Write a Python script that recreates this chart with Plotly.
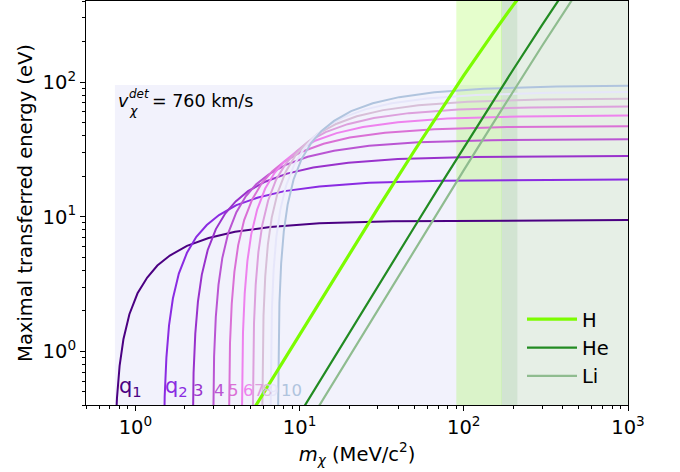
import math
import plotly.graph_objects as go

# ---------------- data ----------------
q_names = ["q1", "q2", "q3", "q4", "q5", "q6", "q7", "q8", "q9", "q10"]
q_label_text = ["q<sub>1</sub>", "q<sub>2</sub>", "3", "4", "5", "6", "7", "8", "9", "10"]
q_label_mass = [0.81, 1.53, 2.27, 3.05, 3.72, 4.59, 5.34, 5.99, 6.52, 7.76]
q_colors = ["#4B0082", "#8A2BE2", "#9932CC", "#BA55D3", "#DA70D6",
            "#EE82EE", "#DDA0DD", "#D8BFD8", "#E6E6FA", "#B0C4DE"]

q1_mass = [0.737, 0.742, 0.753, 0.772, 0.801, 0.845, 0.919, 1.03, 1.18, 1.36, 1.62, 2.06, 2.79, 4.04, 6.62, 13.2, 36.8, 1000]
q1_energy = [0.028, 0.094, 0.23, 0.45, 0.78, 1.23, 1.89, 2.70, 3.54, 4.34, 5.15, 6.08, 6.96, 7.73, 8.40, 8.93, 9.26, 9.44]
q2_mass = [1.474, 1.485, 1.507, 1.544, 1.602, 1.691, 1.838, 2.06, 2.35, 2.72, 3.23, 4.12, 5.59, 8.09, 13.2, 26.5, 73.5, 1000]
q2_energy = [0.057, 0.187, 0.461, 0.90, 1.56, 2.47, 3.78, 5.40, 7.09, 8.68, 10.3, 12.2, 13.9, 15.5, 16.8, 17.9, 18.5, 18.87]
q3_mass = [2.212, 2.227, 2.260, 2.315, 2.403, 2.536, 2.756, 3.09, 3.53, 4.08, 4.85, 6.17, 8.38, 12.1, 19.8, 39.7, 110, 1000]
q3_energy = [0.085, 0.281, 0.691, 1.35, 2.34, 3.70, 5.67, 8.10, 10.6, 13.0, 15.5, 18.2, 20.9, 23.2, 25.2, 26.8, 27.8, 28.29]
q4_mass = [2.949, 2.969, 3.014, 3.087, 3.205, 3.381, 3.675, 4.12, 4.70, 5.44, 6.47, 8.23, 11.2, 16.2, 26.5, 52.9, 147, 1000]
q4_energy = [0.113, 0.374, 0.922, 1.80, 3.12, 4.93, 7.56, 10.8, 14.2, 17.4, 20.6, 24.3, 27.9, 30.9, 33.6, 35.7, 37.0, 37.69]
q5_mass = [3.686, 3.712, 3.767, 3.859, 4.006, 4.226, 4.594, 5.15, 5.88, 6.80, 8.09, 10.3, 14.0, 20.2, 33.1, 66.2, 184, 1000]
q5_energy = [0.141, 0.468, 1.15, 2.25, 3.90, 6.16, 9.45, 13.5, 17.7, 21.7, 25.8, 30.4, 34.8, 38.7, 42.0, 44.6, 46.3, 47.08]
q6_mass = [4.423, 4.454, 4.520, 4.631, 4.807, 5.072, 5.513, 6.17, 7.06, 8.16, 9.70, 12.3, 16.8, 24.3, 39.7, 79.4, 221, 1000]
q6_energy = [0.170, 0.561, 1.38, 2.70, 4.68, 7.40, 11.3, 16.2, 21.3, 26.1, 30.9, 36.5, 41.8, 46.4, 50.4, 53.6, 55.6, 56.45]
q7_mass = [5.160, 5.196, 5.274, 5.402, 5.608, 5.917, 6.431, 7.20, 8.23, 9.52, 11.3, 14.4, 19.6, 28.3, 46.3, 92.6, 257, 1000]
q7_energy = [0.198, 0.655, 1.61, 3.15, 5.46, 8.63, 13.2, 18.9, 24.8, 30.4, 36.1, 42.5, 48.7, 54.1, 58.8, 62.5, 64.8, 65.81]
q8_mass = [5.898, 5.939, 6.027, 6.174, 6.409, 6.762, 7.350, 8.23, 9.41, 10.9, 12.9, 16.5, 22.3, 32.3, 52.9, 106, 294, 1000]
q8_energy = [0.226, 0.748, 1.84, 3.60, 6.24, 9.86, 15.1, 21.6, 28.4, 34.7, 41.2, 48.6, 55.7, 61.9, 67.2, 71.4, 74.1, 75.16]
q9_mass = [6.635, 6.681, 6.780, 6.946, 7.210, 7.607, 8.269, 9.26, 10.6, 12.2, 14.6, 18.5, 25.1, 36.4, 59.5, 119, 331, 1000]
q9_energy = [0.254, 0.842, 2.07, 4.05, 7.02, 11.1, 17.0, 24.3, 31.9, 39.1, 46.4, 54.7, 62.7, 69.6, 75.6, 80.3, 83.3, 84.49]
q10_mass = [7.372, 7.424, 7.534, 7.718, 8.012, 8.453, 9.188, 10.3, 11.8, 13.6, 16.2, 20.6, 27.9, 40.4, 66.2, 132, 368, 1000]
q10_energy = [0.283, 0.936, 2.30, 4.50, 7.80, 12.3, 18.9, 27.0, 35.4, 43.4, 51.5, 60.8, 69.6, 77.3, 84.0, 89.3, 92.6, 93.81]

H_mass = [5, 10, 20, 30, 50, 70, 100, 150, 200, 300]
H_energy = [0.339, 1.34, 5.25, 11.6, 30.9, 58.1, 112, 229, 373, 708]
He_mass = [10, 20, 30, 50, 70, 100, 150, 200, 300, 400]
He_energy = [0.343, 1.37, 3.05, 8.39, 16.3, 32.7, 71.7, 124, 266, 450]
Li_mass = [10, 13, 20, 30, 50, 70, 100, 150, 200, 300, 500]
Li_energy = [0.229, 0.386, 0.911, 2.04, 5.64, 11.0, 22.2, 49.0, 85.6, 186, 484]

nuclei = ["H", "He", "Li"]
nuclei_colors = ["#7CFC00", "#228B22", "#8FBC8F"]

# shaded regions (MeV/c^2 and eV)
region_mass_min = 0.75
region_energy_max = 95
band_H = [90, 171]
band_overlap = [171, 213]
band_Li = [213, 1000]

x_ticks = [1, 10, 100, 1000]
x_tick_text = ["10<sup>0</sup>", "10<sup>1</sup>", "10<sup>2</sup>", "10<sup>3</sup>"]
y_ticks = [1, 10, 100]
y_tick_text = ["10<sup>0</sup>", "10<sup>1</sup>", "10<sup>2</sup>"]
x_minor = [0.5, 0.6, 0.7, 0.8, 0.9, 2, 3, 4, 5, 6, 7, 8, 9, 20, 30, 40, 50, 60, 70, 80, 90,
           200, 300, 400, 500, 600, 700, 800, 900]
y_minor = [0.4, 0.5, 0.6, 0.7, 0.8, 0.9, 2, 3, 4, 5, 6, 7, 8, 9, 20, 30, 40, 50, 60, 70, 80, 90, 200, 300, 400]

q_mass = [q1_mass, q2_mass, q3_mass, q4_mass, q5_mass, q6_mass, q7_mass, q8_mass, q9_mass, q10_mass]
q_energy = [q1_energy, q2_energy, q3_energy, q4_energy, q5_energy, q6_energy, q7_energy, q8_energy, q9_energy, q10_energy]
nuc_mass = [H_mass, He_mass, Li_mass]
nuc_energy = [H_energy, He_energy, Li_energy]

# ---------------- figure ----------------
FONT = "DejaVu Sans"
FS = 19.5
L, R, T, B = 86, 52, 1, 67
W, Hh = 680, 472
PW, PH = W - L - R, Hh - T - B

def px(xp):
    return (xp - L) / PW

def py(yp):
    return (Hh - B - yp) / PH

fig = go.Figure()

for name, xs, ys, col in zip(q_names, q_mass, q_energy, q_colors):
    fig.add_trace(go.Scatter(x=xs, y=ys, mode="lines", name=name, showlegend=False,
                             line=dict(color=col, width=2), hoverinfo="skip"))

widths = [3.2, 2.2, 2.2]
for name, xs, ys, col, w in zip(nuclei, nuc_mass, nuc_energy, nuclei_colors, widths):
    fig.add_trace(go.Scatter(x=xs, y=ys, mode="lines", name=name, legendgroup=name,
                             line=dict(color=col, width=w)))

shapes = [
    dict(type="rect", xref="x", yref="y", x0=region_mass_min, x1=1000, y0=0.1, y1=region_energy_max,
         fillcolor="rgba(230,230,250,0.5)", line=dict(width=0), layer="below"),
    dict(type="rect", xref="x", yref="y", x0=band_H[0], x1=band_H[1], y0=0.1, y1=1e4,
         fillcolor="rgba(124,252,0,0.2)", line=dict(width=0), layer="below"),
    dict(type="rect", xref="x", yref="y", x0=band_overlap[0], x1=band_overlap[1], y0=0.1, y1=1e4,
         fillcolor="rgb(210,228,210)", line=dict(width=0), layer="below"),
    dict(type="rect", xref="x", yref="y", x0=band_Li[0], x1=band_Li[1], y0=0.1, y1=1e4,
         fillcolor="rgb(230,239,230)", line=dict(width=0), layer="below"),
    dict(type="line", xref="x", yref="paper", x0=band_H[1], x1=band_H[1], y0=0, y1=1,
         line=dict(color="rgba(150,215,120,0.6)", width=1), layer="below"),
]

annotations = []
for i, (txt, m, col) in enumerate(zip(q_label_text, q_label_mass, q_colors)):
    big = i < 2
    annotations.append(dict(x=math.log10(m), y=math.log10(0.5), xref="x", yref="y",
                            text=txt, showarrow=False, xanchor="left", yanchor="bottom",
                            font=dict(family=FONT, size=21 if big else 16.5, color=col),
                            xshift=-2, yshift=-9, borderpad=0))

# v_chi^det = 760 km/s
annotations += [
    dict(x=px(117), y=py(108), xref="paper", yref="paper", text="<i>v</i>", showarrow=False,
         xanchor="left", yanchor="bottom", font=dict(family=FONT, size=17.5, color="black"), borderpad=0, yshift=-4),
    dict(x=px(128), y=py(116), xref="paper", yref="paper", text="<i>χ</i>", showarrow=False,
         xanchor="left", yanchor="bottom", font=dict(family=FONT, size=12.5, color="black"), borderpad=0, yshift=-3),
    dict(x=px(128), y=py(99), xref="paper", yref="paper", text="<i>det</i>", showarrow=False,
         xanchor="left", yanchor="bottom", font=dict(family=FONT, size=12, color="black"), borderpad=0, yshift=-3),
    dict(x=px(151), y=py(108), xref="paper", yref="paper", text="= 760 km/s", showarrow=False,
         xanchor="left", yanchor="bottom", font=dict(family=FONT, size=17.5, color="black"), borderpad=0, yshift=-4),
]

axis_common = dict(type="log", showgrid=False, zeroline=False, showline=True, linecolor="black",
                   linewidth=1, mirror=True, ticks="outside", ticklen=5, tickwidth=1, tickcolor="black",
                   tickfont=dict(family=FONT, size=FS, color="black"))

fig.update_layout(
    width=W, height=Hh,
    margin=dict(l=L, r=R, t=T, b=B),
    paper_bgcolor="white", plot_bgcolor="white",
    font=dict(family=FONT, size=FS, color="black"),
    xaxis=dict(**axis_common, range=[math.log10(0.5), 3], tickmode="array", tickvals=x_ticks,
               ticktext=x_tick_text,
               minor=dict(tickmode="array", tickvals=x_minor, ticks="outside", ticklen=3,
                          tickcolor="black", tickwidth=1, showgrid=False),
               title=dict(text="<i>m</i><sub><i>χ</i></sub> (MeV/c<sup>2</sup>)",
                          font=dict(family=FONT, size=FS), standoff=6)),
    yaxis=dict(**axis_common, range=[math.log10(0.4), math.log10(400)], tickmode="array",
               tickvals=y_ticks, ticktext=y_tick_text,
               minor=dict(tickmode="array", tickvals=y_minor, ticks="outside", ticklen=3,
                          tickcolor="black", tickwidth=1, showgrid=False),
               title=dict(text="Maximal transferred energy (eV)",
                          font=dict(family=FONT, size=FS), standoff=4)),
    legend=dict(x=px(522), y=py(300), xanchor="left", yanchor="top", bgcolor="rgba(0,0,0,0)",
                font=dict(family=FONT, size=FS, color="black"), itemwidth=50, tracegroupgap=0),
    shapes=shapes,
    annotations=annotations,
    showlegend=True,
)

fig.write_html("out.html", config={"displayModeBar": False},
               post_script="document.body.style.margin='0px';")
